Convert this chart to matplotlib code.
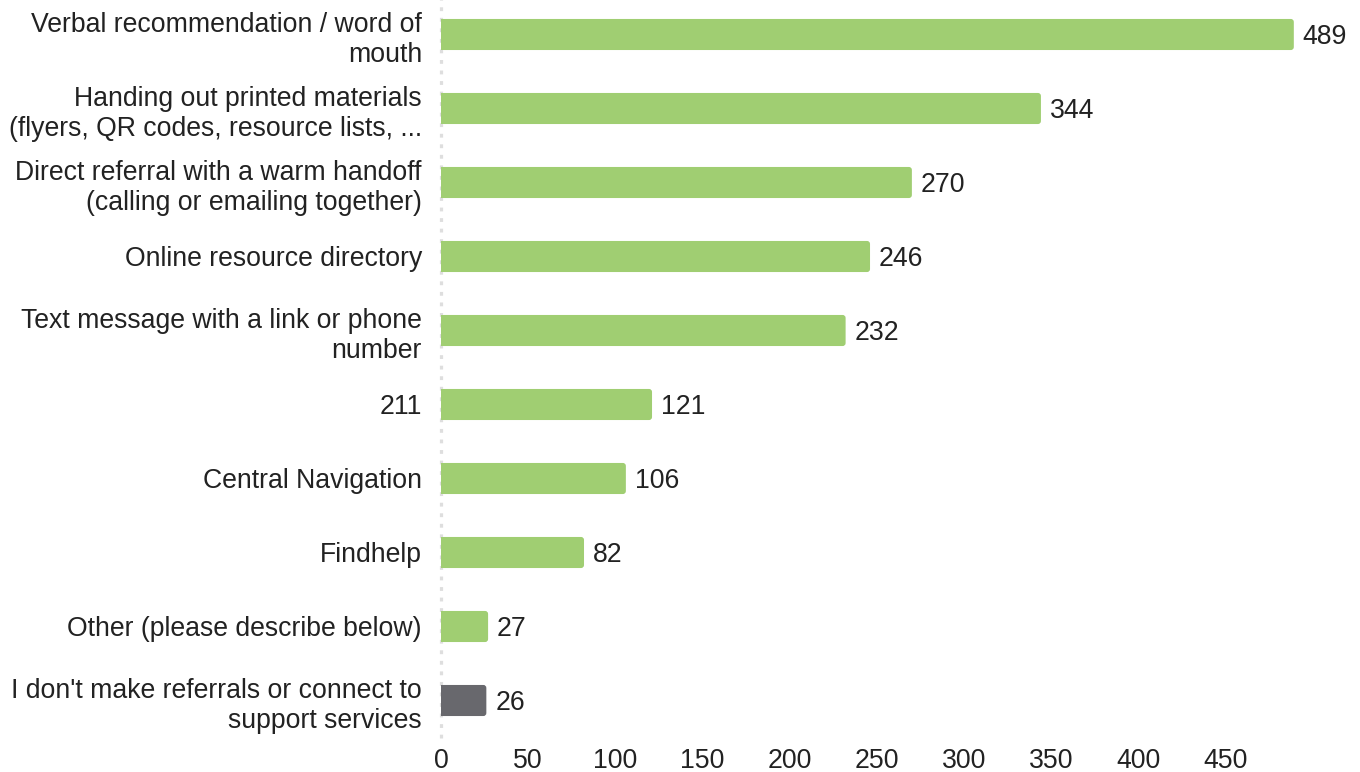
import matplotlib
matplotlib.use("Agg")
import matplotlib.pyplot as plt
from matplotlib.patches import FancyBboxPatch, Rectangle
from matplotlib.transforms import ScaledTranslation

plt.rcParams['font.family'] = ['Liberation Sans', 'DejaVu Sans']

categories = [
    "Verbal recommendation / word of\nmouth",
    "Handing out printed materials\n(flyers, QR codes, resource lists, ...",
    "Direct referral with a warm handoff\n(calling or emailing together)",
    "Online resource directory",
    "Text message with a link or phone\nnumber",
    "211",
    "Central Navigation",
    "Findhelp",
    "Other (please describe below)",
    "I don't make referrals or connect to\nsupport services",
]
counts = [489, 344, 270, 246, 232, 121, 106, 82, 27, 26]
bar_colors = ["#a0ce72"] * 9 + ["#68686d"]
x_ticks = [0, 50, 100, 150, 200, 250, 300, 350, 400, 450]

FS = 19.2
TXT = "#222222"

W, H = 1360, 772
fig = plt.figure(figsize=(W / 100, H / 100), dpi=100)
ax_left = 441 / W
ax_bottom = (H - 737.5) / H
ax_top = (H + 2.5) / H
ax = fig.add_axes([ax_left, ax_bottom, 1 - ax_left, ax_top - ax_bottom])

px_per_unit = 1.744
xmax = (W - 441) / px_per_unit
ax.set_xlim(0, xmax)
ax.set_ylim(len(categories) - 0.5, -0.5)

positions = list(range(len(categories)))
bar_h = 0.42
bars = ax.barh(positions, counts, height=bar_h, color=bar_colors)

down = ScaledTranslation(0, -3 / 100, fig.dpi_scale_trans)

# Bars rounded on the right end only
r_x = 3.0 / px_per_unit
r_y = 3.0 / 74.0
for bar, c in zip(bars, bar_colors):
    x0, y0 = bar.get_x(), bar.get_y()
    w, h = bar.get_width(), bar.get_height()
    bar.set_visible(False)
    rounded = FancyBboxPatch((x0, y0), w, h,
                             boxstyle=f"round,pad=0,rounding_size={r_x}",
                             mutation_aspect=r_y / r_x,
                             facecolor=c, edgecolor="none", zorder=2)
    ax.add_patch(rounded)
    ax.add_patch(Rectangle((x0, y0), w / 2, h, facecolor=c,
                           edgecolor="none", zorder=2))
    ax.text(w + 9 / px_per_unit, y0 + h / 2, str(int(w)),
            va="center", ha="left", fontsize=FS, color=TXT,
            transform=ax.transData + down)

# Dotted baseline at zero
ax.axvline(0, color="#dedede", lw=2.3, linestyle=(0, (1.2, 2.1)),
           dash_capstyle="butt", zorder=1, clip_on=False)

ax.set_yticks(positions)
ax.set_yticklabels(categories, fontsize=FS, color=TXT, ha="right",
                   linespacing=1.25)
for lab in ax.get_yticklabels():
    lab.set_transform(lab.get_transform() + down)
ax.set_xticks(x_ticks)
ax.set_xticklabels([str(t) for t in x_ticks], fontsize=FS, color=TXT)
ax.tick_params(axis="y", length=0, pad=13.7)
ax.tick_params(axis="x", length=0, pad=7.5)
for s in ax.spines.values():
    s.set_visible(False)
ax.set_facecolor("none")

fig.savefig("out.png", dpi=100)
